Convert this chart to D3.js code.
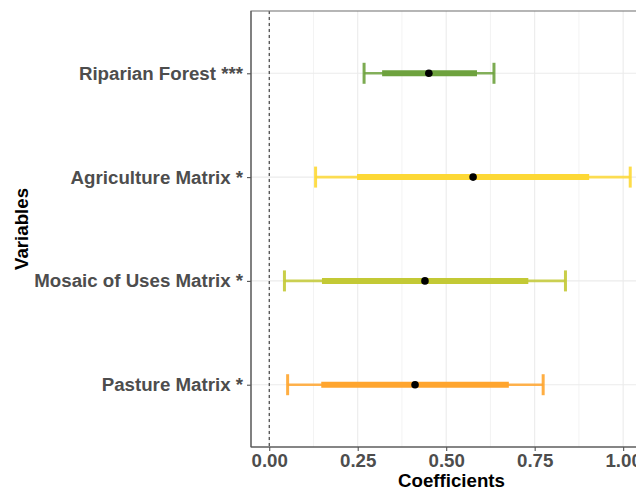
<!DOCTYPE html>
<html>
<head>
<meta charset="utf-8">
<script src="https://cdn.jsdelivr.net/npm/d3@7"></script>
<style>
  body { margin: 0; background: #fff; }
  svg { display: block; font-family: "Liberation Sans", Arial, sans-serif; }
</style>
</head>
<body>
<svg width="636" height="490"></svg>
<script>
const variables = ["Riparian Forest ***", "Agriculture Matrix *", "Mosaic of Uses Matrix *", "Pasture Matrix *"];
const estimates = [0.451, 0.576, 0.44, 0.412];
const inner_lo = [0.319, 0.248, 0.149, 0.147];
const inner_hi = [0.587, 0.904, 0.732, 0.677];
const outer_lo = [0.268, 0.131, 0.043, 0.052];
const outer_hi = [0.635, 1.02, 0.837, 0.774];
const colors = ["#6ea23e", "#fdd835", "#c3c935", "#ffa52e"];
const xTicks = [0, 0.25, 0.5, 0.75, 1.0];

const svg = d3.select("svg");
const pLeft = 251, pRight = 652, pTop = 11, pBottom = 447;
const FS = 18.7;

const x = d3.scaleLinear().domain([-0.0515, 1.0815]).range([pLeft, pRight]);
const y = d3.scalePoint().domain(variables).range([pTop, pBottom]).padding(0.6);

const rows = variables.map((v, i) => ({
  v, est: estimates[i], ilo: inner_lo[i], ihi: inner_hi[i],
  olo: outer_lo[i], ohi: outer_hi[i], col: colors[i]
}));

const grid = svg.append("g");
// minor grid
grid.selectAll("line.minor")
  .data([0.125, 0.375, 0.625, 0.875])
  .join("line")
  .attr("x1", d => x(d)).attr("x2", d => x(d))
  .attr("y1", pTop).attr("y2", pBottom)
  .attr("stroke", "#f3f3f3").attr("stroke-width", 1);
// major grid
grid.selectAll("line.major")
  .data(xTicks)
  .join("line")
  .attr("x1", d => x(d)).attr("x2", d => x(d))
  .attr("y1", pTop).attr("y2", pBottom)
  .attr("stroke", "#ebebeb").attr("stroke-width", 1.1);
grid.selectAll("line.ygrid")
  .data(variables)
  .join("line")
  .attr("x1", pLeft).attr("x2", pRight)
  .attr("y1", d => y(d)).attr("y2", d => y(d))
  .attr("stroke", "#ebebeb").attr("stroke-width", 1.1);

// reference line at 0
svg.append("line")
  .attr("x1", x(0)).attr("x2", x(0))
  .attr("y1", pTop).attr("y2", pBottom)
  .attr("stroke", "#222").attr("stroke-width", 1)
  .attr("stroke-dasharray", "3,3");

const g = svg.append("g");
const row = g.selectAll("g.row").data(rows).join("g");

row.append("line")
  .attr("x1", d => x(d.olo)).attr("x2", d => x(d.ohi))
  .attr("y1", d => y(d.v)).attr("y2", d => y(d.v))
  .attr("stroke", d => d.col).attr("stroke-opacity", 0.85)
  .attr("stroke-width", 2.6);
row.selectAll("line.cap")
  .data(d => [d.olo, d.ohi].map(val => ({ val, d })))
  .join("line")
  .attr("x1", c => x(c.val)).attr("x2", c => x(c.val))
  .attr("y1", c => y(c.d.v) - 10.5).attr("y2", c => y(c.d.v) + 10.5)
  .attr("stroke", c => c.d.col).attr("stroke-opacity", 0.9)
  .attr("stroke-width", 3);
row.append("line")
  .attr("x1", d => x(d.ilo)).attr("x2", d => x(d.ihi))
  .attr("y1", d => y(d.v)).attr("y2", d => y(d.v))
  .attr("stroke", d => d.col)
  .attr("stroke-width", 6);
row.append("circle")
  .attr("cx", d => x(d.est)).attr("cy", d => y(d.v))
  .attr("r", 3.8).attr("fill", "#000");

// panel border
svg.append("rect")
  .attr("x", pLeft).attr("y", pTop)
  .attr("width", pRight - pLeft).attr("height", pBottom - pTop)
  .attr("fill", "none").attr("stroke", "#7a7a7a").attr("stroke-width", 1.1);
svg.append("line")
  .attr("x1", pLeft).attr("x2", pLeft).attr("y1", pTop).attr("y2", pBottom)
  .attr("stroke", "#555").attr("stroke-width", 1.1);
svg.append("line")
  .attr("x1", pLeft).attr("x2", pRight).attr("y1", pBottom).attr("y2", pBottom)
  .attr("stroke", "#555").attr("stroke-width", 1.1);

// axes
const xAxis = svg.append("g")
  .attr("transform", `translate(0,${pBottom})`)
  .call(d3.axisBottom(x).tickValues(xTicks).tickFormat(d3.format(".2f")).tickSize(4).tickPadding(3));
xAxis.select(".domain").remove();
xAxis.selectAll(".tick line").attr("stroke", "#555").attr("stroke-width", 1.1);
xAxis.selectAll("text")
  .attr("fill", "#4d4d4d").attr("font-size", FS).attr("font-weight", "bold")
  .attr("font-family", "Liberation Sans, Arial, sans-serif");

const yAxis = svg.append("g")
  .attr("transform", `translate(${pLeft},0)`)
  .call(d3.axisLeft(y).tickSize(4).tickPadding(4));
yAxis.select(".domain").remove();
yAxis.selectAll(".tick line").attr("stroke", "#555").attr("stroke-width", 1.1);
yAxis.selectAll("text")
  .attr("fill", "#4d4d4d").attr("font-size", FS).attr("font-weight", "bold")
  .attr("font-family", "Liberation Sans, Arial, sans-serif");

// titles
svg.append("text")
  .attr("x", (pLeft + pRight) / 2).attr("y", 487)
  .attr("text-anchor", "middle")
  .attr("font-size", FS).attr("font-weight", "bold").attr("fill", "#000")
  .text("Coefficients");
svg.append("text")
  .attr("transform", `translate(28,${(pTop + pBottom) / 2}) rotate(-90)`)
  .attr("text-anchor", "middle")
  .attr("font-size", FS).attr("font-weight", "bold").attr("fill", "#000")
  .text("Variables");
</script>
</body>
</html>
